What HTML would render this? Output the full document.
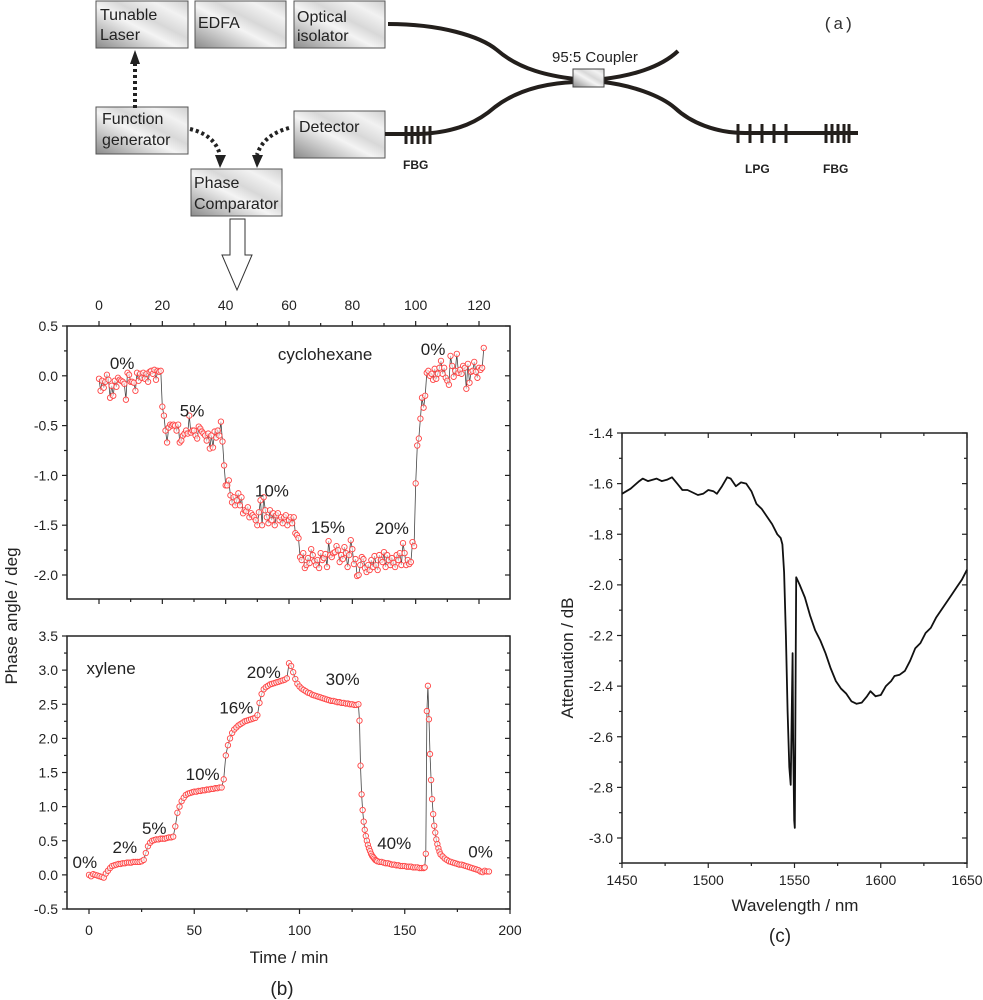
<!DOCTYPE html>
<html><head><meta charset="utf-8">
<style>
html,body{margin:0;padding:0;background:#fff;}
svg{display:block;font-family:"Liberation Sans",Arial,sans-serif;}
</style></head>
<body>
<svg id="fig" width="983" height="1000" viewBox="0 0 983 1000" xmlns="http://www.w3.org/2000/svg">
<defs>
<linearGradient id="boxg" x1="0" y1="1" x2="1" y2="0">
<stop offset="0" stop-color="#8a8a8a"/><stop offset="0.45" stop-color="#f4f4f4"/><stop offset="0.6" stop-color="#d8d8d8"/><stop offset="0.8" stop-color="#f2f2f2"/><stop offset="1" stop-color="#cfcfcf"/>
</linearGradient>
</defs>
<g id="diagram" font-size="16" fill="#222">
<g><rect x="96" y="1" width="92" height="47" fill="url(#boxg)" stroke="#555"/><text x="100" y="20">Tunable</text><text x="100" y="40">Laser</text></g>
<g><rect x="195" y="1" width="91" height="47" fill="url(#boxg)" stroke="#555"/><text x="198" y="28">EDFA</text></g>
<g><rect x="294" y="1" width="91" height="47" fill="url(#boxg)" stroke="#555"/><text x="297" y="22">Optical</text><text x="297" y="41">isolator</text></g>
<g><rect x="96" y="107" width="92" height="47" fill="url(#boxg)" stroke="#555"/><text x="102" y="124">Function</text><text x="102" y="145">generator</text></g>
<g><rect x="294" y="111" width="91" height="47" fill="url(#boxg)" stroke="#555"/><text x="299" y="132">Detector</text></g>
<g><rect x="191" y="169" width="91" height="47" fill="url(#boxg)" stroke="#555"/><text x="194" y="188">Phase</text><text x="194" y="209">Comparator</text></g>
<g><path d="M230,219 L245,219 L245,255 L252,255 L237,290 L222,255 L230,255 Z" fill="#fff" stroke="#333" stroke-width="1"/></g>
<g fill="none" stroke="#222" stroke-width="4" stroke-dasharray="3,3">
<path d="M135,108 L135,62"/>
<path d="M190,129 Q215,135 220,155"/>
<path d="M289,128 Q263,135 257,155"/>
</g>
<path d="M130,64 L135,50 L140,64 Z M215,155 L220,168 L226,155 Z M252,155 L257,168 L263,155 Z" fill="#222"/>
<g fill="none" stroke="#231f1c" stroke-width="4">
<path d="M388,24 C440,24 480,36 497,50 C520,70 550,76 575,79"/>
<path d="M385,134 L420,134 C460,132 480,120 495,107 C520,88 550,83 575,82"/>
<path d="M603,79 C630,76 660,68 678,51"/>
<path d="M603,82 C630,85 660,95 675,108 C690,122 715,133 745,133 L858,133"/>
</g>
<rect x="573" y="69" width="31" height="18" fill="url(#boxg)" stroke="#444"/>
<g stroke="#231f1c" stroke-width="3">
<path d="M406,126V144M412,126V144M418,126V144M424,126V144M430,126V144"/>
<path d="M738,124V143M750,124V143M762,124V143M774,124V143M786,124V143"/>
<path d="M826,124V143M832,124V143M838,124V143M844,124V143M849,124V143"/>
</g>
<text x="552" y="62" font-size="15">95:5 Coupler</text>
<g font-size="12" font-weight="bold">
<text x="403" y="169">FBG</text><text x="745" y="173">LPG</text><text x="823" y="173">FBG</text>
</g>
<text x="823" y="29" font-size="17" font-family="Liberation Mono,monospace" fill="#333">(a)</text>
</g>
<g id="chartB"></g>
<g id="chartC"></g>
</svg>
<script>
// ---- data: cyclohexane (top panel, b) ----
const cycStart = 0;
const cycStep = 0.5;
const cycValues = [-0.03,-0.15,-0.05,-0.12,-0.06,0.01,-0.04,-0.22,-0.1,-0.2,-0.05,-0.11,-0.02,-0.04,-0.05,-0.06,-0.08,-0.24,0.03,0.01,
-0.06,-0.06,-0.07,-0.15,0.03,-0.05,0.02,-0.02,0.03,-0.03,0.02,-0.06,0.04,0.05,0.02,0.06,-0.04,0.05,0.04,0.05,
-0.31,-0.4,-0.55,-0.67,-0.52,-0.49,-0.5,-0.49,-0.5,-0.55,-0.49,-0.67,-0.65,-0.6,-0.58,-0.55,-0.58,-0.4,-0.57,-0.55,
-0.55,-0.6,-0.63,-0.51,-0.53,-0.56,-0.58,-0.6,-0.65,-0.58,-0.73,-0.6,-0.72,-0.56,-0.62,-0.55,-0.6,-0.46,-0.66,-0.9,
-1.1,-1.1,-1.05,-1.2,-1.27,-1.22,-1.3,-1.25,-1.18,-1.3,-1.22,-1.38,-1.35,-1.36,-1.32,-1.42,-1.38,-1.4,-1.42,-1.45,
-1.5,-1.37,-1.25,-1.5,-1.22,-1.35,-1.42,-1.48,-1.35,-1.45,-1.38,-1.5,-1.4,-1.38,-1.45,-1.42,-1.48,-1.42,-1.4,-1.5,
-1.45,-1.42,-1.48,-1.42,-1.58,-1.6,-1.63,-1.82,-1.85,-1.78,-1.93,-1.9,-1.83,-1.88,-1.74,-1.8,-1.86,-1.9,-1.85,-1.93,
-1.78,-1.85,-1.83,-1.79,-1.92,-1.66,-1.8,-1.82,-1.78,-1.77,-1.71,-1.75,-1.87,-1.8,-1.84,-1.72,-1.78,-1.92,-1.8,-1.65,
-1.74,-1.89,-1.84,-2.01,-2.0,-1.9,-1.82,-1.84,-1.93,-1.97,-1.9,-1.95,-1.85,-1.92,-1.81,-1.9,-1.95,-1.8,-1.85,-1.87,
-1.77,-1.92,-1.8,-1.85,-1.9,-1.83,-1.88,-1.92,-1.8,-1.85,-1.78,-1.9,-1.68,-1.78,-1.9,-1.85,-1.89,-1.87,-1.67,-1.71,
-1.08,-0.7,-0.63,-0.43,-0.22,-0.32,-0.2,0.03,0.05,0.0,0.02,-0.04,0.07,-0.03,0.02,0.08,0.15,0.02,0.08,-0.02,
-0.05,-0.09,0.2,0.1,-0.01,0.05,0.22,0.03,0.06,0.02,0.1,0.08,-0.13,0.12,-0.07,0.04,0.05,0.14,0.04,-0.02,
0.08,0.06,0.08,0.28];
const cycTopTicks = [0,20,40,60,80,100,120];
const cycYTicks = [0.5,0.0,-0.5,-1.0,-1.5,-2.0];
const cycYLabels = ["0.5","0.0","-0.5","-1.0","-1.5","-2.0"];
const cycAnnot = ["0%","5%","10%","15%","20%","cyclohexane","0%"];
const cycAnnotT = [7.3,29.4,54.6,72.3,92.5,71.4,105.5];
const cycAnnotV = [0.13,-0.35,-1.15,-1.52,-1.53,0.22,0.27];

// ---- data: xylene (bottom panel, b) ----
const xylSegments = [[0,127,1],[128,137,0.5],[138,159,1],[159.5,167,0.5],[168,190,1]];
const xylValues = [0,-0.02,0.01,0.0,-0.01,-0.02,-0.03,-0.04,0.02,0.06,
0.1,0.13,0.14,0.15,0.16,0.16,0.17,0.17,0.18,0.18,
0.18,0.19,0.19,0.19,0.19,0.2,0.22,0.32,0.42,0.47,
0.5,0.51,0.52,0.52,0.53,0.53,0.53,0.54,0.55,0.55,
0.56,0.71,0.91,1.0,1.08,1.13,1.17,1.19,1.2,1.21,
1.22,1.22,1.23,1.23,1.24,1.24,1.25,1.25,1.26,1.26,
1.27,1.27,1.28,1.28,1.4,1.75,1.9,2.0,2.08,2.13,
2.16,2.19,2.21,2.23,2.25,2.26,2.27,2.28,2.29,2.3,
2.34,2.52,2.65,2.72,2.75,2.77,2.79,2.8,2.81,2.82,
2.83,2.84,2.85,2.86,2.88,3.1,3.06,2.97,2.87,2.8,
2.76,2.73,2.71,2.69,2.67,2.66,2.64,2.63,2.62,2.61,
2.6,2.59,2.58,2.57,2.56,2.55,2.55,2.54,2.53,2.53,
2.52,2.52,2.51,2.51,2.5,2.5,2.49,2.49,
2.5,2.26,1.6,1.18,0.95,0.78,0.66,0.57,0.5,0.44,0.39,0.35,0.31,0.28,0.26,0.24,0.22,0.21,0.2,
0.19,0.19,0.18,0.17,0.17,0.16,0.15,0.15,0.14,0.14,0.13,0.13,0.13,0.12,0.12,0.12,0.11,0.11,0.11,0.1,0.1,0.1,
0.11,0.31,2.4,2.77,2.28,1.77,1.39,1.11,0.89,0.72,0.62,0.52,0.45,0.39,0.34,0.3,
0.27,0.24,0.22,0.2,0.19,0.18,0.17,0.16,0.15,0.15,0.14,0.13,0.12,0.11,0.1,0.09,0.08,0.07,0.05,0.04,0.06,0.05,0.05];
const xylXTicks = [0,50,100,150,200];
const xylYTicks = [3.5,3.0,2.5,2.0,1.5,1.0,0.5,0.0,-0.5];
const xylYLabels = ["3.5","3.0","2.5","2.0","1.5","1.0","0.5","0.0","-0.5"];
const xylAnnot = ["xylene","0%","2%","5%","10%","16%","20%","30%","40%","0%"];
const xylAnnotT = [10.5,-2,17,31,54,70,83,120.5,145,186];
const xylAnnotV = [3.03,0.19,0.41,0.69,1.48,2.45,2.97,2.87,0.47,0.34];

// ---- data: attenuation spectrum (c) ----
const wavelengths = [1450,1455,1460,1462,1465,1470,1473,1476,1479,1482,1485,1488,1491,1494,1497,1500,1503,1505,1508,1511,1513,1516,1519,1522,1525,1528,1531,1534,1537,1540,1542,1543,1544,1545,1546,1547,1547.8,1548.9,1549.2,1549.8,1550.2,1550.7,1551,1553,1556,1559,1562,1565,1568,1571,1574,1577,1580,1583,1586,1589,1592,1594,1597,1600,1603,1606,1608,1611,1614,1617,1620,1623,1626,1629,1632,1635,1638,1641,1644,1647,1650];
const attenuation = [-1.64,-1.62,-1.59,-1.58,-1.59,-1.58,-1.59,-1.585,-1.575,-1.6,-1.625,-1.625,-1.635,-1.645,-1.64,-1.625,-1.63,-1.64,-1.61,-1.575,-1.58,-1.61,-1.595,-1.6,-1.63,-1.68,-1.7,-1.73,-1.76,-1.8,-1.815,-1.84,-1.95,-2.2,-2.5,-2.72,-2.79,-2.27,-2.6,-2.93,-2.96,-2.3,-1.97,-2.0,-2.05,-2.12,-2.18,-2.22,-2.27,-2.33,-2.38,-2.41,-2.43,-2.46,-2.47,-2.465,-2.44,-2.42,-2.44,-2.435,-2.4,-2.38,-2.36,-2.355,-2.34,-2.3,-2.25,-2.23,-2.19,-2.17,-2.13,-2.1,-2.07,-2.04,-2.01,-1.98,-1.94];
const specXTicks = [1450,1500,1550,1600,1650];
const specYTicks = [-1.4,-1.6,-1.8,-2.0,-2.2,-2.4,-2.6,-2.8,-3.0];
const specYLabels = ["-1.4","-1.6","-1.8","-2.0","-2.2","-2.4","-2.6","-2.8","-3.0"];

const NS = "http://www.w3.org/2000/svg";
function mk(parent, tag, attrs, txt) {
  const e = document.createElementNS(NS, tag);
  for (const k in attrs) e.setAttribute(k, attrs[k]);
  if (txt !== undefined) e.textContent = txt;
  parent.appendChild(e);
  return e;
}
function lin(d0, d1, r0, r1) { return v => r0 + (v - d0) * (r1 - r0) / (d1 - d0); }

const gB = document.getElementById('chartB');
const gC = document.getElementById('chartC');

(function(){
  const L=67,R=510,T=326,B=599;
  const x = lin(0,120,99,479);
  const y = lin(0.5,-2.0,326,575);
  const g = mk(gB,'g',{});
  
  
  const frame = mk(g,'rect',{x:L,y:T,width:R-L,height:B-T,fill:'none',stroke:'#222','stroke-width':1.5});
  
  
  for (let v=0; v<=130; v+=10) {
    const px=x(v); if (px<L||px>R) continue;
    const major = v%20===0;
    mk(g,'line',{x1:px,x2:px,y1:T,y2:T-(major?5:3),stroke:'#222','stroke-width':1.2});
    mk(g,'line',{x1:px,x2:px,y1:B,y2:B+(major?5:3),stroke:'#222','stroke-width':1.2});
  }
  cycTopTicks.forEach(v=>{
    const t = mk(g,'text',{x:x(v),y:310,'font-size':14,'text-anchor':'middle',fill:'#222'},String(v));
    
    
  });
  for (let v=0.5; v>=-2.25; v-=0.25) {
    const py=y(v); if (py>B+0.5) continue;
    const major = Math.abs(v*2-Math.round(v*2))<1e-6;
    mk(g,'line',{x1:L,x2:L-(major?5:3),y1:py,y2:py,stroke:'#222','stroke-width':1.2});
    mk(g,'line',{x1:R,x2:R-(major?5:3),y1:py,y2:py,stroke:'#222','stroke-width':1.2});
  }
  cycYTicks.forEach((v,i)=>{
    const t = mk(g,'text',{x:58,y:y(v)+5,'font-size':14,'text-anchor':'end',fill:'#222'},cycYLabels[i]);
    
    
  });
  let d='';
  cycValues.forEach((v,i)=>{ const t=cycStart+i*cycStep; d+=(i?'L':'M')+x(t).toFixed(1)+','+y(v).toFixed(1); });
  const ln = mk(g,'path',{d:d,fill:'none',stroke:'#444','stroke-width':0.8});
  
  
  cycValues.forEach((v,i)=>{
    const c = mk(g,'circle',{cx:x(cycStart+i*cycStep),cy:y(v),r:2.7,fill:'#fff','fill-opacity':0.6,stroke:'#f44','stroke-width':0.9});
    
    
  });
  cycAnnot.forEach((s,i)=>{
    const t = mk(g,'text',{x:x(cycAnnotT[i]),y:y(cycAnnotV[i])+6,'font-size':17,'text-anchor':'middle',fill:'#222'},s);
    
    
  });
})();

(function(){
  const L=67,R=510,T=636,B=909;
  const x = lin(0,200,89,510);
  const y = lin(3.5,-0.5,636,909);
  const g = mk(gB,'g',{});
  
  
  const frame = mk(g,'rect',{x:L,y:T,width:R-L,height:B-T,fill:'none',stroke:'#222','stroke-width':1.5});
  
  
  for (let v=0; v<=200; v+=25) {
    const major = v%50===0;
    mk(g,'line',{x1:x(v),x2:x(v),y1:B,y2:B+(major?5:3),stroke:'#222','stroke-width':1.2});
  }
  xylXTicks.forEach(v=>{
    const t = mk(g,'text',{x:x(v),y:935,'font-size':14,'text-anchor':'middle',fill:'#222'},String(v));
    
    
  });
  for (let v=3.5; v>=-0.5; v-=0.25) {
    const major = Math.abs(v*2-Math.round(v*2))<1e-6;
    mk(g,'line',{x1:L,x2:L-(major?5:3),y1:y(v),y2:y(v),stroke:'#222','stroke-width':1.2});
    mk(g,'line',{x1:R,x2:R-(major?5:3),y1:y(v),y2:y(v),stroke:'#222','stroke-width':1.2});
  }
  xylYTicks.forEach((v,i)=>{
    const t = mk(g,'text',{x:58,y:y(v)+5,'font-size':14,'text-anchor':'end',fill:'#222'},xylYLabels[i]);
    
    
  });
  const times=[];
  xylSegments.forEach(s=>{ for (let t=s[0]; t<=s[1]+1e-9; t+=s[2]) times.push(t); });
  let d='';
  xylValues.forEach((v,i)=>{ d+=(i?'L':'M')+x(times[i]).toFixed(1)+','+y(v).toFixed(1); });
  const ln = mk(g,'path',{d:d,fill:'none',stroke:'#444','stroke-width':0.8});
  
  
  xylValues.forEach((v,i)=>{
    const c = mk(g,'circle',{cx:x(times[i]),cy:y(v),r:2.7,fill:'#fff','fill-opacity':0.6,stroke:'#f44','stroke-width':0.9});
    
    
  });
  xylAnnot.forEach((s,i)=>{
    const t = mk(g,'text',{x:x(xylAnnotT[i]),y:y(xylAnnotV[i])+6,'font-size':17,'text-anchor':'middle',fill:'#222'},s);
    
    
  });
  const xt = mk(g,'text',{x:289,y:963,'font-size':17,'text-anchor':'middle',fill:'#222'},'Time / min');
  
  
  const pb = mk(g,'text',{x:282,y:995,'font-size':19,'text-anchor':'middle',fill:'#222'},'(b)');
  
  
  const yt = mk(g,'text',{x:0,y:0,'font-size':17,'text-anchor':'middle',fill:'#222',transform:'translate(17,616) rotate(-90)'},'Phase angle / deg');
  
  
})();

(function(){
  const L=622,R=967,T=433,B=863;
  const x = lin(1450,1650,622,967);
  const y = lin(-1.4,-3.0,433,838);
  const g = mk(gC,'g',{});
  
  
  const frame = mk(g,'rect',{x:L,y:T,width:R-L,height:B-T,fill:'none',stroke:'#222','stroke-width':1.5});
  
  
  for (let v=1450; v<=1650; v+=25) {
    const major = v%50===0;
    mk(g,'line',{x1:x(v),x2:x(v),y1:B,y2:B+(major?5:3),stroke:'#222','stroke-width':1.2});
    mk(g,'line',{x1:x(v),x2:x(v),y1:T,y2:T+(major?5:3),stroke:'#222','stroke-width':1.2});
  }
  specXTicks.forEach(v=>{
    const t = mk(g,'text',{x:x(v),y:885,'font-size':14,'text-anchor':'middle',fill:'#222'},String(v));
    
    
  });
  for (let k=0; k<=17; k++) {
    const v = -1.4 - k*0.1;
    const major = k%2===0;
    mk(g,'line',{x1:L,x2:L-(major?5:3),y1:y(v),y2:y(v),stroke:'#222','stroke-width':1.2});
    mk(g,'line',{x1:R,x2:R-(major?5:3),y1:y(v),y2:y(v),stroke:'#222','stroke-width':1.2});
  }
  specYTicks.forEach((v,i)=>{
    const t = mk(g,'text',{x:613,y:y(v)+5,'font-size':14,'text-anchor':'end',fill:'#222'},specYLabels[i]);
    
    
  });
  let d='';
  wavelengths.forEach((w,i)=>{ d+=(i?'L':'M')+x(w).toFixed(1)+','+y(attenuation[i]).toFixed(1); });
  const ln = mk(g,'path',{d:d,fill:'none',stroke:'#111','stroke-width':1.8,'stroke-linejoin':'round'});
  
  
  const xt = mk(g,'text',{x:795,y:911,'font-size':17,'text-anchor':'middle',fill:'#222'},'Wavelength / nm');
  
  
  const yt = mk(g,'text',{x:0,y:0,'font-size':17,'text-anchor':'middle',fill:'#222',transform:'translate(573,658) rotate(-90)'},'Attenuation / dB');
  
  
  const pc = mk(g,'text',{x:780,y:942,'font-size':19,'text-anchor':'middle',fill:'#222'},'(c)');
  
  
})();
</script>
</body></html>
